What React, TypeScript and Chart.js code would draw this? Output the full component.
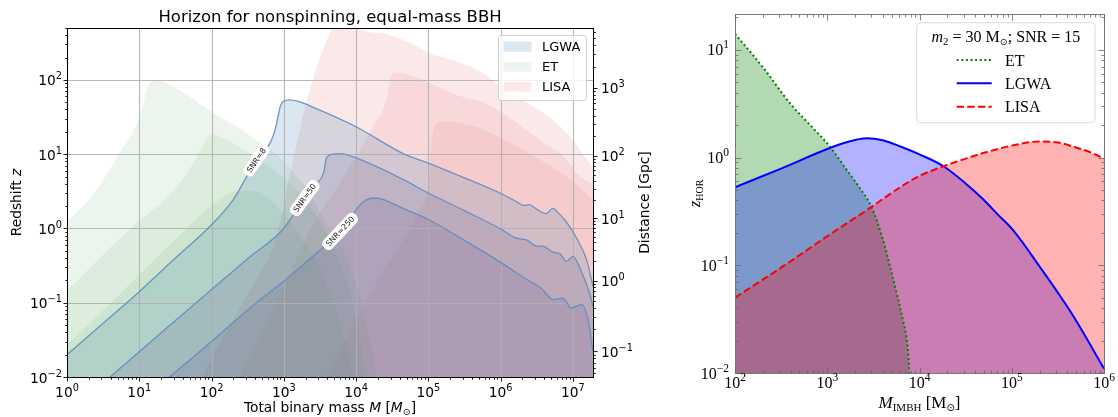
import React, { useEffect, useRef } from 'react';
import { Chart, registerables } from 'chart.js';
Chart.register(...registerables);

// ================= LEFT PANEL DATA (total binary mass M [Msun] -> horizon redshift z) =================
const lgwa8M = [1, 3.16, 10, 31.6, 100, 200, 417, 646, 759, 832, 891, 977, 1200, 1585, 2570, 1e4, 4.47e4, 1e5, 3.16e5, 9.77e5, 1.66e6, 2.09e6, 2.51e6, 3.16e6, 4.27e6, 5.25e6, 6.31e6, 7.94e6, 1e7, 1.26e7, 1.55e7, 1.9e7];
const lgwa8Z = [0.02, 0.053, 0.141, 0.4, 1.12, 2.45, 8.3, 14.1, 21.4, 32.4, 43.7, 51.3, 53.7, 51.3, 42.7, 23.4, 10.2, 7.6, 4.8, 3.0, 2.29, 2.04, 2.09, 1.82, 1.58, 1.86, 1.62, 1.26, 0.91, 0.6, 0.38, 0.166];

const lgwa50M = [3.16, 10, 31.6, 100, 316, 1000, 1349, 2042, 2818, 3548, 3890, 4786, 6026, 1e4, 4.47e4, 1e5, 3.16e5, 9.77e5, 1.66e6, 2.29e6, 3.16e6, 3.8e6, 5.37e6, 6.61e6, 8.13e6, 1e7, 1.32e7, 1.7e7, 1.9e7];
const lgwa50Z = [0.0083, 0.0219, 0.0575, 0.151, 0.39, 1.0, 1.51, 2.75, 3.98, 5.6, 8.9, 10.0, 10.2, 8.9, 4.57, 3.0, 1.74, 1.0, 0.74, 0.7, 0.58, 0.58, 0.48, 0.46, 0.36, 0.42, 0.26, 0.135, 0.089];

const lgwa250M = [20, 26.3, 100, 417, 1000, 4365, 6310, 7943, 1e4, 12590, 17380, 22390, 4.47e4, 1e5, 3.16e5, 9.77e5, 2.51e6, 3.63e6, 5.37e6, 7.24e6, 9.55e6, 1.32e7, 1.62e7, 1.9e7];
const lgwa250Z = [0.0079, 0.01, 0.03, 0.1, 0.195, 0.676, 0.955, 1.26, 1.78, 2.29, 2.57, 2.51, 1.86, 1.32, 0.69, 0.355, 0.195, 0.158, 0.11, 0.115, 0.085, 0.095, 0.06, 0.022];

const et8M = [1, 2.29, 5.37, 10.2, 13.2, 17.4, 29.5, 100, 309, 468, 1000, 2000, 3981, 6607, 1e4, 14125, 19055, 20893];
const et8Z = [1.24, 2.82, 10.5, 32.4, 81.3, 100, 81.3, 37.2, 19.1, 14.1, 7.94, 3.55, 1.12, 0.51, 0.178, 0.05, 0.01, 0.0032];

const et50M = [1, 3.16, 10, 26.3, 56.2, 85.1, 105, 158, 339, 1202, 2512, 5012, 8913, 13183, 14454];
const et50Z = [0.141, 0.447, 1.26, 2.82, 7.6, 15.5, 18.2, 15.8, 10.2, 4.07, 1.78, 0.5, 0.1, 0.01, 0.0032];

const et250M = [1, 3.16, 10, 31.6, 100, 224, 398, 794, 1585, 3162, 5623, 8913, 1e4];
const et250Z = [0.027, 0.079, 0.24, 0.71, 2.0, 3.16, 3.16, 2.0, 0.89, 0.28, 0.063, 0.01, 0.0032];

const lisa8M = [63, 75.9, 316, 794, 1259, 2291, 4571, 7079, 11220, 25120, 54950, 104700, 275400, 575400, 977200, 1.995e6, 3.16e6, 9.12e6, 1.45e7, 1.9e7];
const lisa8Z = [0.0063, 0.01, 0.132, 0.79, 6.3, 74, 479, 891, 490, 417, 316, 229, 170, 123, 81, 52.5, 41.7, 17.4, 9.3, 6.5];

const lisa50M = [200, 245, 794, 2291, 5012, 1e4, 17780, 26300, 29510, 35480, 54950, 275400, 575400, 1.07e6, 3.47e6, 9.12e6, 1.12e7, 1.9e7];
const lisa50Z = [0.0063, 0.01, 0.1, 0.955, 3.16, 9.3, 25.1, 53.7, 100, 126, 117, 60.3, 50.1, 35.5, 15.5, 7.6, 5.6, 3.9];

const lisa250M = [3162, 3981, 19950, 70790, 1e5, 112200, 128800, 158500, 575400, 2.51e6, 9.12e6, 1.9e7];
const lisa250Z = [0.0063, 0.01, 0.2, 1.58, 3.98, 15.8, 25.1, 27.5, 21.4, 10.2, 4.57, 2.45];

const leftXExps = [0, 1, 2, 3, 4, 5, 6, 7];
const leftYExps = [-2, -1, 0, 1, 2];
const distanceExps = [-1, 0, 1, 2, 3]; // Distance ticks [Gpc] = 10^e
const leftLegend = ['LGWA', 'ET', 'LISA'];
const snrLabels = ['SNR=8', 'SNR=50', 'SNR=250'];
const snrLabelM = [417, 1950, 6026];

// ================= RIGHT PANEL DATA (M_IMBH [Msun] -> z_HOR), m2 = 30 Msun, SNR = 15 =================
const imbhEtM = [100, 200, 398, 708, 1072, 1585, 2239, 3020, 3981, 4786, 5754, 6607, 7413, 7762, 8511];
const imbhEtZ = [14.1, 6.9, 3.16, 1.86, 1.26, 0.79, 0.525, 0.347, 0.178, 0.098, 0.052, 0.031, 0.0178, 0.01, 0.001];
const imbhLgwaM = [100, 316, 1000, 1585, 2692, 3981, 6310, 1e4, 18200, 31620, 48980, 70790, 102300, 199500, 467700, 1e6];
const imbhLgwaZ = [0.53, 0.79, 1.2, 1.38, 1.51, 1.45, 1.26, 1.07, 0.83, 0.575, 0.41, 0.295, 0.214, 0.098, 0.0335, 0.011];
const imbhLisaM = [100, 316, 1000, 2884, 6310, 1e4, 18200, 31620, 48980, 1e5, 199500, 316200, 467700, 707900, 1e6];
const imbhLisaZ = [0.05, 0.095, 0.186, 0.339, 0.537, 0.676, 0.83, 0.977, 1.1, 1.29, 1.41, 1.38, 1.26, 1.12, 0.977];
const rightXExps = [2, 3, 4, 5, 6];
const rightYExps = [-2, -1, 0, 1];
const rightLegend = ['ET', 'LGWA', 'LISA'];

// ================= styles =================
const LGWA_FILL = 'rgba(70,128,178,0.2)';
const LGWA_FILL_INNER = 'rgba(105,100,145,0.2)';
const LGWA_LINE = 'rgba(95,140,195,0.9)';
const ET_FILL = 'rgba(85,168,92,0.11)';
const LISA_FILL = 'rgba(239,167,167,0.25)';
const SANS = '"DejaVu Sans"';
const SERIF = '"Liberation Serif"';

const pts = (xs: number[], ys: number[]) => xs.map((x, i) => ({ x, y: ys[i] }));

// luminosity distance (flat LCDM, Planck18) – used only to place the secondary axis ticks
function lumDistGpc(z: number): number {
  const H0 = 67.66, OM = 0.30966, OR = 9.0e-5, C = 299792.458;
  const n = 400;
  const U = Math.log(1 + z);
  const h = U / n;
  let s = 0;
  for (let i = 0; i <= n; i++) {
    const zz = Math.exp(i * h) - 1;
    const a = 1 + zz;
    const f = a / Math.sqrt(OM * a * a * a + OR * a * a * a * a + (1 - OM - OR));
    s += f * (i === 0 || i === n ? 1 : i % 2 ? 4 : 2);
  }
  return ((1 + z) * C / H0 * (s * h / 3)) / 1000;
}
function zAtDistance(d: number): number {
  let lo = -5, hi = 4;
  for (let k = 0; k < 50; k++) {
    const mid = (lo + hi) / 2;
    if (lumDistGpc(Math.pow(10, mid)) < d) lo = mid; else hi = mid;
  }
  return Math.pow(10, (lo + hi) / 2);
}

type Seg = { t: string; font: string; dy?: number };
function drawRich(ctx: CanvasRenderingContext2D, segs: Seg[], x: number, y: number, align: 'left' | 'center' | 'right') {
  ctx.textAlign = 'left';
  ctx.textBaseline = 'alphabetic';
  let w = 0;
  for (const s of segs) { ctx.font = s.font; w += ctx.measureText(s.t).width; }
  let cx = align === 'left' ? x : align === 'center' ? x - w / 2 : x - w;
  for (const s of segs) {
    ctx.font = s.font;
    ctx.fillText(s.t, cx, y + (s.dy || 0));
    cx += ctx.measureText(s.t).width;
  }
}
const expStr = (e: number) => (e < 0 ? '\u2212' + -e : String(e));
function powSegs(e: number, base: string, sup: string, raise: number): Seg[] {
  return [{ t: '10', font: base }, { t: expStr(e), font: sup, dy: -raise }];
}
function roundRect(ctx: CanvasRenderingContext2D, x: number, y: number, w: number, h: number, r: number) {
  ctx.beginPath();
  ctx.moveTo(x + r, y);
  ctx.lineTo(x + w - r, y);
  ctx.arcTo(x + w, y, x + w, y + r, r);
  ctx.lineTo(x + w, y + h - r);
  ctx.arcTo(x + w, y + h, x + w - r, y + h, r);
  ctx.lineTo(x + r, y + h);
  ctx.arcTo(x, y + h, x, y + h - r, r);
  ctx.lineTo(x, y + r);
  ctx.arcTo(x, y, x + r, y, r);
  ctx.closePath();
}
function interpLogLog(xs: number[], ys: number[], x: number): number {
  const lx = Math.log10(x);
  for (let i = 0; i < xs.length - 1; i++) {
    const a = Math.log10(xs[i]), b = Math.log10(xs[i + 1]);
    if (lx >= a && lx <= b) {
      const t = (lx - a) / (b - a);
      return Math.pow(10, Math.log10(ys[i]) * (1 - t) + Math.log10(ys[i + 1]) * t);
    }
  }
  return ys[ys.length - 1];
}
function minorValues(e0: number, e1: number): number[] {
  const out: number[] = [];
  for (let e = e0; e <= e1; e++) for (let k = 2; k <= 9; k++) out.push(k * Math.pow(10, e));
  return out;
}

// ================= LEFT CHART =================
function makeLeft(canvas: HTMLCanvasElement) {
  const curves = [
    { xs: lgwa250M, ys: lgwa250Z, fill: LGWA_FILL_INNER, line: LGWA_LINE, lw: 1.3 },
    { xs: lgwa50M, ys: lgwa50Z, fill: LGWA_FILL_INNER, line: LGWA_LINE, lw: 1.3 },
    { xs: lgwa8M, ys: lgwa8Z, fill: LGWA_FILL, line: LGWA_LINE, lw: 1.3 },
    { xs: et250M, ys: et250Z, fill: ET_FILL, line: 'rgba(0,0,0,0)', lw: 0 },
    { xs: et50M, ys: et50Z, fill: ET_FILL, line: 'rgba(0,0,0,0)', lw: 0 },
    { xs: et8M, ys: et8Z, fill: ET_FILL, line: 'rgba(0,0,0,0)', lw: 0 },
    { xs: lisa250M, ys: lisa250Z, fill: LISA_FILL, line: 'rgba(0,0,0,0)', lw: 0 },
    { xs: lisa50M, ys: lisa50Z, fill: LISA_FILL, line: 'rgba(0,0,0,0)', lw: 0 },
    { xs: lisa8M, ys: lisa8Z, fill: LISA_FILL, line: 'rgba(0,0,0,0)', lw: 0 },
  ];
  const labelCurves = [
    { xs: lgwa8M, ys: lgwa8Z },
    { xs: lgwa50M, ys: lgwa50Z },
    { xs: lgwa250M, ys: lgwa250Z },
  ];

  const decor = {
    id: 'leftDecor',
    beforeDatasetsDraw(chart: any) {
      const { ctx, chartArea: a, scales } = chart;
      const xs = scales.x, ys = scales.y;
      ctx.save();
      ctx.strokeStyle = 'rgba(176,176,176,0.9)';
      ctx.lineWidth = 1.1;
      for (const e of leftXExps) {
        const px = Math.round(xs.getPixelForValue(Math.pow(10, e))) + 0.5;
        ctx.beginPath(); ctx.moveTo(px, a.top); ctx.lineTo(px, a.bottom); ctx.stroke();
      }
      for (const e of leftYExps) {
        const py = Math.round(ys.getPixelForValue(Math.pow(10, e))) + 0.5;
        ctx.beginPath(); ctx.moveTo(a.left, py); ctx.lineTo(a.right, py); ctx.stroke();
      }
      ctx.restore();
    },
    afterDraw(chart: any) {
      const { ctx, chartArea: a, scales } = chart;
      const xs = scales.x, ys = scales.y;
      ctx.save();
      // contour labels
      labelCurves.forEach((c, i) => {
        const M = snrLabelM[i];
        const z = interpLogLog(c.xs, c.ys, M);
        const M1 = M / 1.2, M2 = M * 1.2;
        const p1x = xs.getPixelForValue(M1), p1y = ys.getPixelForValue(interpLogLog(c.xs, c.ys, M1));
        const p2x = xs.getPixelForValue(M2), p2y = ys.getPixelForValue(interpLogLog(c.xs, c.ys, M2));
        const ang = Math.atan2(p2y - p1y, p2x - p1x);
        const cx = xs.getPixelForValue(M), cy = ys.getPixelForValue(z);
        ctx.save();
        ctx.translate(cx, cy);
        ctx.rotate(ang);
        ctx.font = `7.8px ${SANS}`;
        const w = ctx.measureText(snrLabels[i]).width;
        ctx.fillStyle = '#ffffff';
        roundRect(ctx, -w / 2 - 4, -6, w + 8, 12, 5);
        ctx.fill();
        ctx.fillStyle = '#222';
        ctx.textAlign = 'center';
        ctx.textBaseline = 'middle';
        ctx.fillText(snrLabels[i], 0, 0.5);
        ctx.restore();
      });

      // spines
      ctx.strokeStyle = '#000';
      ctx.lineWidth = 1;
      ctx.strokeRect(Math.round(a.left) + 0.5, Math.round(a.top) + 0.5, Math.round(a.right - a.left), Math.round(a.bottom - a.top));

      // ticks
      const tick = (x1: number, y1: number, x2: number, y2: number) => { ctx.beginPath(); ctx.moveTo(x1, y1); ctx.lineTo(x2, y2); ctx.stroke(); };
      ctx.lineWidth = 0.9;
      const bottom = Math.round(a.bottom) + 0.5, left = Math.round(a.left) + 0.5, right = Math.round(a.right) + 0.5;
      for (const e of leftXExps) { const px = Math.round(xs.getPixelForValue(Math.pow(10, e))) + 0.5; tick(px, bottom, px, bottom + 4); }
      for (const v of minorValues(0, 7)) { if (v > xs.max) continue; const px = Math.round(xs.getPixelForValue(v)) + 0.5; tick(px, bottom, px, bottom + 2.2); }
      for (const e of leftYExps) { const py = Math.round(ys.getPixelForValue(Math.pow(10, e))) + 0.5; tick(left, py, left - 4, py); }
      for (const v of minorValues(-2, 2)) { if (v > ys.max) continue; const py = Math.round(ys.getPixelForValue(v)) + 0.5; tick(left, py, left - 2.2, py); }
      // secondary distance axis
      for (const e of distanceExps) { const py = Math.round(ys.getPixelForValue(zAtDistance(Math.pow(10, e)))) + 0.5; tick(right, py, right + 4, py); }
      for (const v of minorValues(-2, 3)) {
        const z = zAtDistance(v);
        if (z < ys.min || z > ys.max) continue;
        const py = Math.round(ys.getPixelForValue(z)) + 0.5; tick(right, py, right + 2.2, py);
      }

      // tick labels
      ctx.fillStyle = '#000';
      const base = `13.8px ${SANS}`, sup = `9.8px ${SANS}`;
      for (const e of leftXExps) drawRich(ctx, powSegs(e, base, sup, 6), xs.getPixelForValue(Math.pow(10, e)), a.bottom + 19.5, 'center');
      for (const e of leftYExps) drawRich(ctx, powSegs(e, base, sup, 6), a.left - 5, ys.getPixelForValue(Math.pow(10, e)) + 5.5, 'right');
      for (const e of distanceExps) drawRich(ctx, powSegs(e, base, sup, 6), a.right + 8, ys.getPixelForValue(zAtDistance(Math.pow(10, e))) + 5.5, 'left');

      // title & axis labels
      const lab = `13.8px ${SANS}`, labI = `oblique 13.8px ${SANS}`;
      drawRich(ctx, [{ t: 'Horizon for nonspinning, equal-mass BBH', font: `16.5px ${SANS}` }], (a.left + a.right) / 2, 22, 'center');
      drawRich(ctx, [
        { t: 'Total binary mass ', font: lab }, { t: 'M', font: labI }, { t: ' [', font: lab },
        { t: 'M', font: labI }, { t: '\u2299', font: `9.5px ${SANS}`, dy: 3 }, { t: ']', font: lab },
      ], (a.left + a.right) / 2, 412, 'center');
      ctx.save();
      ctx.translate(21, (a.top + a.bottom) / 2);
      ctx.rotate(-Math.PI / 2);
      drawRich(ctx, [{ t: 'Redshift ', font: lab }, { t: 'z', font: labI }], 0, 0, 'center');
      ctx.restore();
      ctx.save();
      ctx.translate(649, (a.top + a.bottom) / 2);
      ctx.rotate(-Math.PI / 2);
      drawRich(ctx, [{ t: 'Distance [Gpc]', font: lab }], 0, 0, 'center');
      ctx.restore();

      // legend
      const lx = 498.5, ly = 35.5, lw = 88, lh = 65;
      ctx.fillStyle = 'rgba(255,255,255,0.8)';
      roundRect(ctx, lx, ly, lw, lh, 3);
      ctx.fill();
      ctx.strokeStyle = '#d0d0d0';
      ctx.lineWidth = 1;
      ctx.stroke();
      const fills = [LGWA_FILL, ET_FILL, LISA_FILL];
      leftLegend.forEach((name, i) => {
        const cy = 46.7 + i * 20;
        ctx.fillStyle = fills[i];
        ctx.fillRect(503.5, cy - 5, 28, 10);
        ctx.fillStyle = '#000';
        drawRich(ctx, [{ t: name, font: `13px ${SANS}` }], 542, cy + 4.7, 'left');
      });
      ctx.restore();
    },
  };

  return new Chart(canvas, {
    type: 'line',
    data: {
      datasets: curves.map((c) => ({
        data: pts(c.xs, c.ys),
        fill: 'start',
        backgroundColor: c.fill,
        borderColor: c.line,
        borderWidth: c.lw,
        pointRadius: 0,
        cubicInterpolationMode: 'monotone' as const,
      })),
    },
    options: {
      responsive: false,
      animation: false,
      devicePixelRatio: 1,
      layout: { padding: { top: 28, right: 97, left: 0, bottom: 0 } },
      plugins: { legend: { display: false }, tooltip: { enabled: false }, filler: { drawTime: 'beforeDatasetsDraw' } as any },
      scales: {
        x: {
          type: 'logarithmic', min: 1, max: 1.9e7,
          grid: { display: false }, border: { display: false }, ticks: { display: false },
          afterFit: (s: any) => { s.height = 40; },
        },
        y: {
          type: 'logarithmic', min: 0.01, max: 500,
          grid: { display: false }, border: { display: false }, ticks: { display: false },
          afterFit: (s: any) => { s.width = 67; },
        },
      },
    } as any,
    plugins: [decor],
  });
}

// ================= RIGHT CHART =================
function makeRight(canvas: HTMLCanvasElement) {
  const lineStyles = [
    { color: '#008000', dash: [2, 2.6] },
    { color: '#0000ff', dash: [] as number[] },
    { color: '#ff0000', dash: [7.4, 3.2] },
  ];
  const decor = {
    id: 'rightDecor',
    afterDraw(chart: any) {
      const { ctx, chartArea: a, scales } = chart;
      const xs = scales.x, ys = scales.y;
      ctx.save();
      const L = Math.round(a.left) + 0.5, R = Math.round(a.right) + 0.5, T = Math.round(a.top) + 0.5, B = Math.round(a.bottom) + 0.5;
      ctx.strokeStyle = '#7a7a7a';
      ctx.lineWidth = 1;
      ctx.strokeRect(L, T, R - L, B - T);
      ctx.strokeStyle = '#666';
      ctx.lineWidth = 0.8;
      const tick = (x1: number, y1: number, x2: number, y2: number) => { ctx.beginPath(); ctx.moveTo(x1, y1); ctx.lineTo(x2, y2); ctx.stroke(); };
      for (const e of rightXExps) { const px = Math.round(xs.getPixelForValue(Math.pow(10, e))) + 0.5; tick(px, B, px, B - 6); tick(px, T, px, T + 6); }
      for (const v of minorValues(2, 5)) { const px = Math.round(xs.getPixelForValue(v)) + 0.5; tick(px, B, px, B - 3); tick(px, T, px, T + 3); }
      for (const e of rightYExps) { const py = Math.round(ys.getPixelForValue(Math.pow(10, e))) + 0.5; tick(L, py, L + 6, py); tick(R, py, R - 6, py); }
      for (const v of minorValues(-2, 1)) { if (v > ys.max) continue; const py = Math.round(ys.getPixelForValue(v)) + 0.5; tick(L, py, L + 3, py); tick(R, py, R - 3, py); }

      ctx.fillStyle = '#000';
      const base = `16px ${SERIF}`, sup = `11.5px ${SERIF}`;
      for (const e of rightXExps) drawRich(ctx, powSegs(e, base, sup, 7), xs.getPixelForValue(Math.pow(10, e)), 388, 'center');
      for (const e of rightYExps) drawRich(ctx, powSegs(e, base, sup, 7), 39, ys.getPixelForValue(Math.pow(10, e)) + 5.5, 'right');

      // axis labels
      drawRich(ctx, [
        { t: 'M', font: `italic 17px ${SERIF}` }, { t: 'IMBH', font: `11px ${SERIF}`, dy: 3 },
        { t: ' [M', font: `17px ${SERIF}` }, { t: '\u2299', font: `10px ${SANS}`, dy: 3 }, { t: ']', font: `17px ${SERIF}` },
      ], (a.left + a.right) / 2, 408, 'center');
      ctx.save();
      ctx.translate(10, (a.top + a.bottom) / 2);
      ctx.rotate(-Math.PI / 2);
      drawRich(ctx, [{ t: 'z', font: `italic 17px ${SERIF}` }, { t: 'HOR', font: `10px ${SERIF}`, dy: 3 }], 0, 0, 'center');
      ctx.restore();

      // legend
      const bx = 226.7, by = 22.7, bw = 178.3, bh = 100;
      ctx.fillStyle = 'rgba(255,255,255,0.8)';
      roundRect(ctx, bx, by, bw, bh, 4);
      ctx.fill();
      ctx.strokeStyle = '#dcdcdc';
      ctx.lineWidth = 1;
      ctx.stroke();
      ctx.fillStyle = '#000';
      drawRich(ctx, [
        { t: 'm', font: `italic 16px ${SERIF}` }, { t: '2', font: `11px ${SERIF}`, dy: 3 },
        { t: ' = 30 M', font: `16px ${SERIF}` }, { t: '\u2299', font: `9.5px ${SANS}`, dy: 3 },
        { t: '; SNR = 15', font: `16px ${SERIF}` },
      ], bx + bw / 2, 41.5, 'center');
      const rowsY = [60, 83.3, 106.7];
      rightLegend.forEach((name, i) => {
        const cy = rowsY[i];
        ctx.strokeStyle = lineStyles[i].color;
        ctx.lineWidth = 2;
        ctx.setLineDash(lineStyles[i].dash);
        ctx.beginPath(); ctx.moveTo(266.7, cy); ctx.lineTo(301.7, cy); ctx.stroke();
        ctx.setLineDash([]);
        ctx.fillStyle = '#000';
        drawRich(ctx, [{ t: name, font: `16px ${SERIF}` }], 315, cy + 5.5, 'left');
      });
      ctx.restore();
    },
  };
  const series = [
    { xs: imbhLisaM, ys: imbhLisaZ, fill: 'rgba(255,0,0,0.3)', st: lineStyles[2] },
    { xs: imbhLgwaM, ys: imbhLgwaZ, fill: 'rgba(0,0,255,0.3)', st: lineStyles[1] },
    { xs: imbhEtM, ys: imbhEtZ, fill: 'rgba(0,128,0,0.3)', st: lineStyles[0] },
  ];
  return new Chart(canvas, {
    type: 'line',
    data: {
      datasets: series.map((s) => ({
        data: pts(s.xs, s.ys),
        fill: 'start',
        backgroundColor: s.fill,
        borderColor: s.st.color,
        borderDash: s.st.dash,
        borderWidth: 2,
        pointRadius: 0,
        cubicInterpolationMode: 'monotone' as const,
      })),
    },
    options: {
      responsive: false,
      animation: false,
      devicePixelRatio: 1,
      layout: { padding: { top: 14, right: 14, left: 0, bottom: 0 } },
      plugins: { legend: { display: false }, tooltip: { enabled: false }, filler: { drawTime: 'beforeDatasetsDraw' } as any },
      scales: {
        x: {
          type: 'logarithmic', min: 100, max: 1e6,
          grid: { display: false }, border: { display: false }, ticks: { display: false },
          afterFit: (s: any) => { s.height = 44; },
        },
        y: {
          type: 'logarithmic', min: 0.01, max: 21.5,
          grid: { display: false }, border: { display: false }, ticks: { display: false },
          afterFit: (s: any) => { s.width = 45; },
        },
      },
    } as any,
    plugins: [decor],
  });
}

export default function App() {
  const leftRef = useRef<HTMLCanvasElement>(null);
  const rightRef = useRef<HTMLCanvasElement>(null);
  useEffect(() => {
    const c1 = makeLeft(leftRef.current!);
    const c2 = makeRight(rightRef.current!);
    return () => { c1.destroy(); c2.destroy(); };
  }, []);
  return (
    <div style={{ position: 'fixed', left: 0, top: 0, width: 1118, height: 417, background: '#fff' }}>
      <canvas ref={leftRef} width={690} height={417} style={{ position: 'absolute', left: 0, top: 0, width: 690, height: 417 }} />
      <canvas ref={rightRef} width={428} height={417} style={{ position: 'absolute', left: 690, top: 0, width: 428, height: 417 }} />
    </div>
  );
}
